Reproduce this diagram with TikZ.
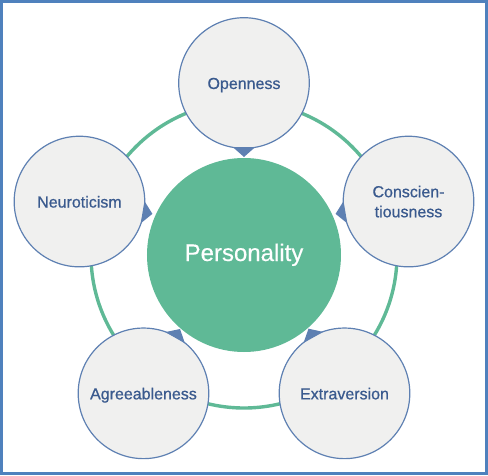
\documentclass[tikz,border=0pt]{standalone}
\usepackage{fontspec}
\setmainfont{Liberation Sans}
\newfontfamily\traitfont{Liberation Sans}[FakeBold=0.7]
\newfontfamily\corefont{Liberation Sans}[FakeBold=0.3]
\usepackage{tikz}
\usetikzlibrary{calc}

\definecolor{frameblue}{HTML}{4F81BD}
\definecolor{ringgreen}{HTML}{5FB996}
\definecolor{traitblue}{HTML}{5E80B2}
\definecolor{traittext}{HTML}{3A5A8E}
\definecolor{traitfill}{HTML}{F0F0EF}

\tikzset{
  trait/.style={circle, draw=traitblue, line width=1.2pt, fill=traitfill,
    minimum size=130.6pt, inner sep=0pt, text=traittext, align=center,
    font=\traitfont\fontsize{16}{20}\selectfont},
  oneline/.style={text height=12pt, text depth=0pt},
  core/.style={circle, fill=ringgreen, minimum size=194pt, inner sep=0pt,
    text=white, text height=17pt, text depth=5pt,
    font=\corefont\fontsize{24}{28}\selectfont},
  pointer/.style={fill=traitblue}
}

\begin{document}
\begin{tikzpicture}[x=1pt,y=1pt]
  \useasboundingbox (-244,-220) rectangle (244,255);
  \draw[frameblue, line width=3pt] (-242.5,-218.5) rectangle (242.5,253.5);

  \node[core] at (0,0) (pers) {Personality};
  \draw[ringgreen, line width=3.4pt] (pers.center) circle (153);

  \node[trait, oneline] at (90:172) (open) {Openness};
  \node[trait] at (18:173) (consc) {Conscien-\\tious\-ness};
  \node[trait, oneline] at (-54:171) (extra) {Extraversion};
  \node[trait, oneline] at (-126:171) (agree) {Agreeableness};
  \node[trait, oneline] at (162:173) (neuro) {Neuroticism};

  \foreach \n/\a in {open/-90, consc/189.6, extra/119.1, agree/60.4, neuro/-9.6}
    \fill[pointer] ($(\n)+(\a:74)$) -- ($(\n)+(\a+10:65)$) -- ($(\n)+(\a-10:65)$) -- cycle;
\end{tikzpicture}
\end{document}
